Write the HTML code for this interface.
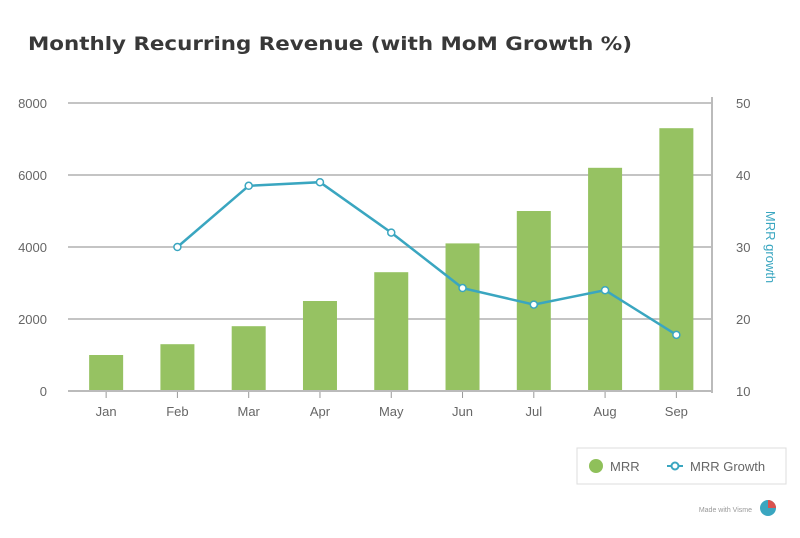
<!DOCTYPE html>
<html><head><meta charset="utf-8"><style>
body{margin:0;background:#fff;font-family:"Liberation Sans",sans-serif}
</style></head><body>
<svg width="800" height="533" font-family="Liberation Sans, sans-serif">
<rect width="800" height="533" fill="#fff"/>
<text x="28" y="50" font-size="19" font-weight="bold" fill="#383838" font-family="DejaVu Sans, sans-serif" textLength="604" lengthAdjust="spacingAndGlyphs">Monthly Recurring Revenue (with MoM Growth %)</text>
<g id="grid"></g><g id="bars"></g><g id="line"></g><g id="axes"></g>
<text transform="translate(766,247) rotate(90)" text-anchor="middle" font-size="13" fill="#3aa6c0">MRR growth</text>
<g>
<rect x="577" y="448" width="209" height="36" fill="#fff" stroke="#ddd"/>
<circle cx="596" cy="466" r="7" fill="#8fc05a"/>
<text x="610" y="471" font-size="13" fill="#666">MRR</text>
<line x1="667" y1="466" x2="683" y2="466" stroke="#3aa6c0" stroke-width="2"/>
<circle cx="675" cy="466" r="3.5" fill="#fff" stroke="#3aa6c0" stroke-width="2"/>
<text x="690" y="471" font-size="13" fill="#666">MRR Growth</text>
</g>
<text x="752" y="512" text-anchor="end" font-size="7" fill="#999">Made with Visme</text>
<circle cx="768" cy="508" r="8" fill="#3aa6c0"/>
<path d="M768,508 L768,500 A8,8 0 0 1 776,508 Z" fill="#d9534f"/>
</svg>
<script>
const categories=["Jan","Feb","Mar","Apr","May","Jun","Jul","Aug","Sep"];
const mrr=[1000,1300,1800,2500,3300,4100,5000,6200,7300];
const growth=[null,30,38.5,39,32,24.3,22,24,17.8];
const leftTicks=[0,2000,4000,6000,8000];
const rightTicks=[10,20,30,40,50];
const NS="http://www.w3.org/2000/svg";
const X0=70.5,X1=712,Y0=391,Y1=103;
const band=(X1-X0)/categories.length;
const xc=i=>X0+band*(i+0.5);
const yL=v=>Y0-(v/8000)*(Y0-Y1);
const yR=v=>Y0-((v-10)/40)*(Y0-Y1);
function mk(tag,at,parent,txt){const e=document.createElementNS(NS,tag);for(const k in at)e.setAttribute(k,at[k]);if(txt!=null)e.textContent=txt;document.getElementById(parent).appendChild(e);return e;}
leftTicks.forEach((t,i)=>{
 const g=mk("line",{x1:68,x2:712,y1:yL(t),y2:yL(t),stroke:i==0?"#bbb":"#c4c4c4","stroke-width":2},"grid");
 
 
 const l=mk("text",{x:47,y:yL(t)+5,"text-anchor":"end","font-size":13,fill:"#666"},"axes",t);
 
 
});
rightTicks.forEach(t=>{
 const l=mk("text",{x:736,y:yR(t)+5,"font-size":13,fill:"#666"},"axes",t);
 
 
});
mk("line",{x1:712,x2:712,y1:97,y2:393,stroke:"#bbb","stroke-width":2},"axes");
categories.forEach((c,i)=>{
 const b=mk("rect",{x:xc(i)-17,y:yL(mrr[i]),width:34,height:Y0-yL(mrr[i]),fill:"#96c262"},"bars");
 
 
 mk("line",{x1:xc(i),x2:xc(i),y1:392,y2:398,stroke:"#999"},"axes");
 const l=mk("text",{x:xc(i),y:416,"text-anchor":"middle","font-size":13,fill:"#666"},"axes",c);
 
 
});
mk("line",{x1:68,x2:712,y1:391,y2:391,stroke:"#bbb","stroke-width":2},"axes");
let pts=[];growth.forEach((g,i)=>{if(g!=null)pts.push([xc(i),yR(g)]);});
const pl=mk("polyline",{points:pts.map(p=>p.join(",")).join(" "),fill:"none",stroke:"#3aa6c0","stroke-width":2.5},"line");


pts.forEach(p=>{const c=mk("circle",{cx:p[0],cy:p[1],r:3.5,fill:"#fff",stroke:"#3aa6c0","stroke-width":1.5},"line");
 
 });
</script>
</body></html>
